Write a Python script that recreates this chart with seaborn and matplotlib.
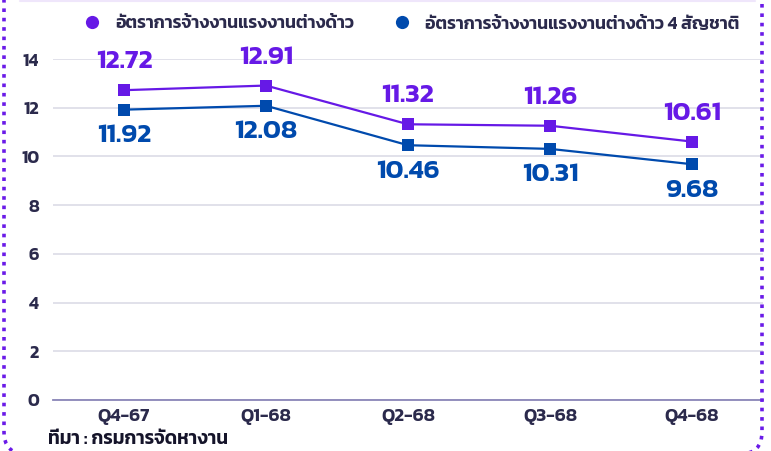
import matplotlib
matplotlib.use("Agg")
import matplotlib.pyplot as plt
import seaborn as sns
import pandas as pd
from matplotlib.patches import FancyBboxPatch
from matplotlib.transforms import IdentityTransform
from matplotlib.lines import Line2D

quarters = ["Q4-67", "Q1-68", "Q2-68", "Q3-68", "Q4-68"]
series_names = ["อัตราการจ้างงานแรงงานต่างด้าว", "อัตราการจ้างงานแรงงานต่างด้าว 4 สัญชาติ"]
foreign_all = [12.72, 12.91, 11.32, 11.26, 10.61]
foreign_4 = [11.92, 12.08, 10.46, 10.31, 9.68]
yticks = [0, 2, 4, 6, 8, 10, 12, 14]
source_text = "ที่มา : กรมการจัดหางาน"

PURPLE = "#6619E6"
BLUE = "#004AAD"
DARK = "#2B2A4C"

sns.set_theme(style="white")
plt.rcParams["font.family"] = ["Kanit", "Prompt", "DejaVu Sans"]

df = pd.DataFrame({
    "quarter": quarters * 2,
    "x": list(range(len(quarters))) * 2,
    "value": foreign_all + foreign_4,
    "series": [series_names[0]] * len(quarters) + [series_names[1]] * len(quarters),
})

fig = plt.figure(figsize=(7.71, 4.51), dpi=100)
ax = fig.add_axes([53 / 771, 1 - 400 / 451, (763 - 53) / 771, (400 - 59) / 451])

sns.lineplot(data=df, x="x", y="value", hue="series", style="series",
             palette=[PURPLE, BLUE], markers=["s", "s"], dashes=False,
             markersize=9, linewidth=1.6, markeredgewidth=0, ax=ax, legend=False)

ax.set_xlim(-0.5, len(quarters) - 0.5)
ax.set_ylim(0, 14)
ax.set_yticks(yticks)
ax.set_xticks(range(len(quarters)))
ax.set_xticklabels(quarters)
ax.set_xlabel("")
ax.set_ylabel("")
ax.grid(axis="y", color="#DCDCE6", linewidth=1.2)
ax.set_axisbelow(True)
for s in ["top", "right", "left"]:
    ax.spines[s].set_visible(False)
ax.spines["bottom"].set_color("#8A86B8")
ax.spines["bottom"].set_linewidth(1.3)
ax.tick_params(axis="both", length=0, colors=DARK)
ax.tick_params(axis="y", pad=10, labelsize=13)
ax.tick_params(axis="x", pad=6, labelsize=13.5)
for lab in ax.get_xticklabels() + ax.get_yticklabels():
    lab.set_fontweight("semibold")

for i, v in enumerate(foreign_all):
    ax.annotate(f"{v:.2f}", (i, v), xytext=(0, 20), textcoords="offset points",
                ha="center", va="center", color=PURPLE, fontsize=19.5,
                fontweight="semibold", annotation_clip=False)
for i, v in enumerate(foreign_4):
    ax.annotate(f"{v:.2f}", (i, v), xytext=(0, -19), textcoords="offset points",
                ha="center", va="center", color=BLUE, fontsize=19.5,
                fontweight="semibold", annotation_clip=False)

handles = [Line2D([], [], marker="o", linestyle="none", markersize=9.5,
                  markerfacecolor=c, markeredgewidth=0) for c in (PURPLE, BLUE)]
fig.legend(handles, series_names, loc="center", bbox_to_anchor=(407 / 771, 1 - 24 / 451),
           ncol=2, frameon=False, handletextpad=0.3, columnspacing=1.7,
           prop={"weight": "semibold", "size": 12.7}, labelcolor=DARK)

fig.text(48 / 771, 1 - 439 / 451, source_text, ha="left", va="center",
         fontsize=13.5, fontweight="semibold", color="#15142A")

fig.add_artist(Line2D([20 / 771, 755 / 771], [1 - 1 / 451, 1 - 1 / 451],
                      transform=fig.transFigure, color="#EFE6FB", linewidth=1.5))
border = FancyBboxPatch((4, -3), 758, 480, boxstyle="round,pad=0,rounding_size=22",
                        transform=IdentityTransform(), fill=False, edgecolor="#6A1BE8",
                        linewidth=2.6, linestyle=(0, (1, 1.6)))
fig.add_artist(border)

fig.savefig("out.png", dpi=100)
